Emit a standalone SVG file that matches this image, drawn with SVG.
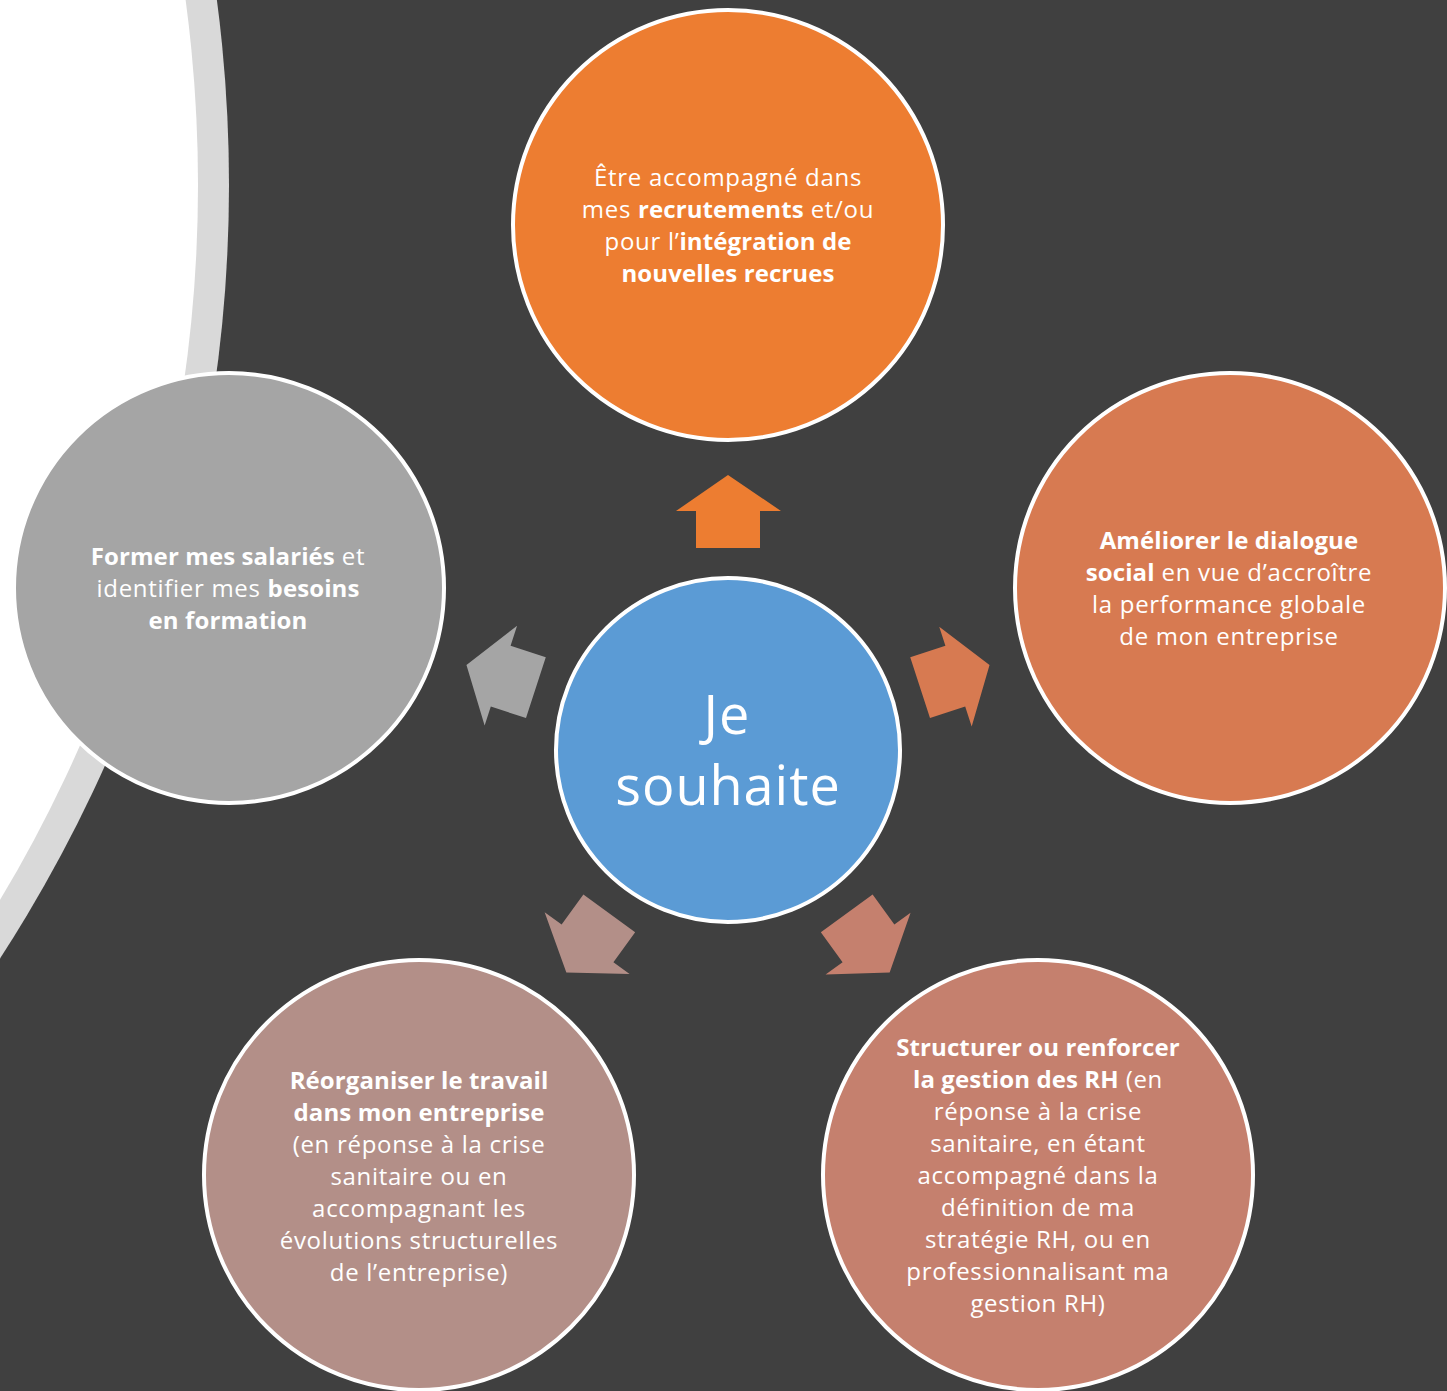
<svg xmlns="http://www.w3.org/2000/svg" width="1447" height="1391" viewBox="0 0 1447 1391">
<style>
.node{stroke:#fff;stroke-width:4}
.t{font-family:"Open Sans","Liberation Sans",sans-serif;font-size:24px;fill:#fff;text-anchor:middle;letter-spacing:0.7px}
.b{font-weight:bold;letter-spacing:0.1px}
.big{font-family:"Open Sans","Liberation Sans",sans-serif;font-size:54px;fill:#fff;text-anchor:middle;letter-spacing:1px}
</style>
<defs>
<polygon id="arr" points="728,475 781,511 760,511 760,548 696,548 696,511 676,511"/>
</defs>
<rect width="1447" height="1391" fill="#404040"/>
<circle cx="-1192" cy="185" r="1421" fill="#D9D9D9"/>
<circle cx="-1192" cy="185" r="1390" fill="#FFFFFF"/>
<g id="connectors">
<use href="#arr" fill="#ED7D31"/>
<use href="#arr" fill="#D77A51" transform="rotate(72 728 750)"/>
<use href="#arr" fill="#C5806E" transform="rotate(144 728 750)"/>
<use href="#arr" fill="#B38F88" transform="rotate(-144 728 750)"/>
<use href="#arr" fill="#A5A5A5" transform="rotate(-72 728 750)"/>
</g>
<g id="center">
<circle class="node" cx="728" cy="750" r="172" fill="#5B9BD5"/>
<text class="big" x="727" y="734">Je</text>
<text class="big" x="728" y="805">souhaite</text>
</g>
<g id="n-top">
<circle class="node" cx="728" cy="225" r="215" fill="#ED7D31"/>
<text class="t" x="728" y="186">Être accompagné dans</text>
<text class="t" x="728" y="218">mes <tspan class="b">recrutements</tspan> et/ou</text>
<text class="t" x="728" y="250">pour l’<tspan class="b">intégration de</tspan></text>
<text class="t b" x="728" y="282">nouvelles recrues</text>
</g>
<g id="n-right">
<circle class="node" cx="1230" cy="588" r="215" fill="#D77A51"/>
<text class="t b" x="1229" y="549">Améliorer le dialogue</text>
<text class="t" x="1229" y="581"><tspan class="b">social</tspan> en vue d’accroître</text>
<text class="t" x="1229" y="613">la performance globale</text>
<text class="t" x="1229" y="645">de mon entreprise</text>
</g>
<g id="n-bright">
<circle class="node" cx="1038" cy="1175" r="215" fill="#C5806E"/>
<text class="t b" x="1038" y="1056">Structurer ou renforcer</text>
<text class="t" x="1038" y="1088"><tspan class="b">la gestion des RH</tspan> (en</text>
<text class="t" x="1038" y="1120">réponse à la crise</text>
<text class="t" x="1038" y="1152">sanitaire, en étant</text>
<text class="t" x="1038" y="1184">accompagné dans la</text>
<text class="t" x="1038" y="1216">définition de ma</text>
<text class="t" x="1038" y="1248">stratégie RH, ou en</text>
<text class="t" x="1038" y="1280">professionnalisant ma</text>
<text class="t" x="1038" y="1312">gestion RH)</text>
</g>
<g id="n-bleft">
<circle class="node" cx="419" cy="1175" r="215" fill="#B38F88"/>
<text class="t b" x="419" y="1089">Réorganiser le travail</text>
<text class="t b" x="419" y="1121">dans mon entreprise</text>
<text class="t" x="419" y="1153">(en réponse à la crise</text>
<text class="t" x="419" y="1185">sanitaire ou en</text>
<text class="t" x="419" y="1217">accompagnant les</text>
<text class="t" x="419" y="1249">évolutions structurelles</text>
<text class="t" x="419" y="1281">de l’entreprise)</text>
</g>
<g id="n-left">
<circle class="node" cx="229" cy="588" r="215" fill="#A5A5A5"/>
<text class="t" x="228" y="565"><tspan class="b">Former mes salariés</tspan> et</text>
<text class="t" x="228" y="597">identifier mes <tspan class="b">besoins</tspan></text>
<text class="t b" x="228" y="629">en formation</text>
</g>
</svg>
